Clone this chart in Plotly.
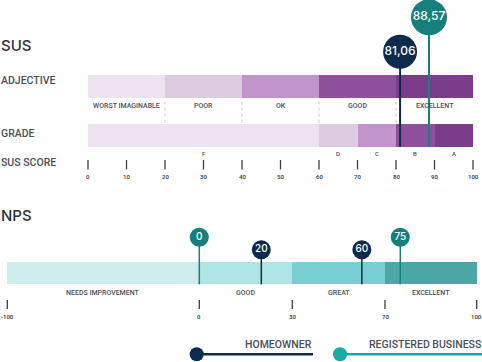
import numpy as np
import plotly.graph_objects as go

# ---------------- data ----------------
SUS_ADJ_LABELS = ["WORST IMAGINABLE", "POOR", "OK", "GOOD", "EXCELLENT"]
SUS_ADJ_BOUNDS = [0, 20, 40, 60, 80, 100]
SUS_GRADE_LABELS = ["F", "D", "C", "B", "A"]
SUS_GRADE_BOUNDS = [0, 60, 70, 80, 90, 100]
SUS_TICKS = [0, 10, 20, 30, 40, 50, 60, 70, 80, 90, 100]

NPS_LABELS = ["NEEDS IMPROVEMENT", "GOOD", "GREAT", "EXCELLENT"]
NPS_BOUNDS = [-100, 0, 30, 70, 100]
NPS_TICKS = [-100, 0, 30, 70, 100]

SERIES = ["HOMEOWNER", "REGISTERED BUSINESS"]
SUS_SCORES = [81.06, 88.57]
NPS_SCORES = [[20, 60], [0, 75]]

# ---------------- style ----------------
W, H = 482, 362
PURPLES = ["#EDE2EF", "#DDCCE1", "#C195CB", "#8F509B", "#7B3C89"]
TEALS = ["#CFECEE", "#B0E5E6", "#77CFD1", "#4BA6A6"]
MARK_COL = ["#0C2B4D", "#167F7B"]
LEG_COL = ["#0C2B4D", "#17A9A5"]
TXT = "#4A4F5A"
DARK = "#2B303A"
LBL_FONT = "Roboto"
NUM_FONT = "Inter"

# SUS horizontal scale: value -> pixel (0 at 88px, 3.85 px/unit)
SUS_X0, SUS_PX = 88.0, 3.85
sus_range = [-SUS_X0 / SUS_PX, (W - SUS_X0) / SUS_PX]

# NPS display scale (piecewise, equal-ish segment widths as in design)
NPS_SCALE_PIX = [7.3, 199.3, 292.3, 385.0, 476.7]


def nps_pos(v):
    return float(np.interp(v, NPS_BOUNDS, NPS_SCALE_PIX))


# vertical layout (pixels from top)
Y_ADJ, Y_GRADE, BAR_H = 86.5, 135.5, 22.4
Y_NPS, NPS_H = 273.3, 22.0

fig = go.Figure()

# ---- SUS adjective bar ----
fig.add_trace(go.Bar(
    y=[Y_ADJ] * len(SUS_ADJ_LABELS),
    base=SUS_ADJ_BOUNDS[:-1],
    x=np.diff(SUS_ADJ_BOUNDS),
    orientation="h", width=BAR_H,
    marker=dict(color=PURPLES, line_width=0),
    hoverinfo="skip", showlegend=False))

# ---- SUS grade bar ----
fig.add_trace(go.Bar(
    y=[Y_GRADE] * len(SUS_GRADE_LABELS),
    base=SUS_GRADE_BOUNDS[:-1],
    x=np.diff(SUS_GRADE_BOUNDS),
    orientation="h", width=BAR_H,
    marker=dict(color=PURPLES, line_width=0),
    hoverinfo="skip", showlegend=False))

# ---- NPS bar ----
nps_starts = [nps_pos(v) for v in NPS_BOUNDS[:-1]]
nps_ends = [nps_pos(v) for v in NPS_BOUNDS[1:]]
fig.add_trace(go.Bar(
    y=[Y_NPS] * len(NPS_LABELS),
    base=nps_starts,
    x=[e - s for s, e in zip(nps_starts, nps_ends)],
    orientation="h", width=NPS_H,
    marker=dict(color=TEALS, line_width=0),
    xaxis="x2", hoverinfo="skip", showlegend=False))

# dotted separators between adjective labels
sx, sy = [], []
for b in SUS_ADJ_BOUNDS[1:-1]:
    sx += [b, b, None]
    sy += [Y_ADJ + BAR_H / 2 + 4, Y_GRADE - BAR_H / 2 - 1, None]
fig.add_trace(go.Scatter(x=sx, y=sy, mode="lines",
                         line=dict(color="#C8C8CC", width=1, dash="dot"),
                         hoverinfo="skip", showlegend=False))

# SUS ticks
tx, ty = [], []
for t in SUS_TICKS:
    tx += [t, t, None]
    ty += [160, 169.5, None]
fig.add_trace(go.Scatter(x=tx, y=ty, mode="lines",
                         line=dict(color="#3A3F48", width=1.3),
                         hoverinfo="skip", showlegend=False))

# NPS ticks
tx, ty = [], []
for t in NPS_TICKS:
    p = nps_pos(t)
    tx += [p, p, None]
    ty += [300, 309, None]
fig.add_trace(go.Scatter(x=tx, y=ty, mode="lines", xaxis="x2",
                         line=dict(color="#3A3F48", width=1.3),
                         hoverinfo="skip", showlegend=False))

# ---- SUS markers ----
SUS_CY = [51.7, 17.3]
SUS_SIZE = [34, 36]
for i, v in enumerate(SUS_SCORES):
    fig.add_trace(go.Scatter(x=[v, v], y=[SUS_CY[i], Y_GRADE + BAR_H / 2],
                             mode="lines", line=dict(color=MARK_COL[i], width=2),
                             hoverinfo="skip", showlegend=False))
    fig.add_trace(go.Scatter(
        x=[v], y=[SUS_CY[i]], mode="markers+text",
        text=[f"{v:.2f}".replace(".", ",")], textposition="middle center",
        textfont=dict(family=NUM_FONT, size=12, color="white", weight=500),
        marker=dict(size=SUS_SIZE[i], color=MARK_COL[i], line_width=0),
        hoverinfo="skip", showlegend=False))

# ---- NPS markers ----
NPS_CY = [249.7, 237.3]
for i, vals in enumerate(NPS_SCORES):
    for v in vals:
        p = nps_pos(v)
        fig.add_trace(go.Scatter(x=[p, p], y=[NPS_CY[i], Y_NPS + NPS_H / 2],
                                 mode="lines", xaxis="x2",
                                 line=dict(color=MARK_COL[i], width=1.5),
                                 hoverinfo="skip", showlegend=False))
        fig.add_trace(go.Scatter(
            x=[p], y=[NPS_CY[i]], mode="markers+text", xaxis="x2",
            text=[str(v)], textposition="middle center",
            textfont=dict(family=NUM_FONT, size=10, color="white", weight=500),
            marker=dict(size=19, color=MARK_COL[i], line_width=0),
            hoverinfo="skip", showlegend=False))

# ---- legend (custom) ----
LEG_Y = 354.3
LEG_LINES = [(196.7, 313.0), (340.0, 482.0)]
for i, name in enumerate(SERIES):
    x0, x1 = LEG_LINES[i]
    fig.add_trace(go.Scatter(x=[x0, x1], y=[LEG_Y, LEG_Y], mode="lines", xaxis="x2",
                             line=dict(color=LEG_COL[i], width=2.5),
                             hoverinfo="skip", showlegend=False))
    fig.add_trace(go.Scatter(x=[x0], y=[LEG_Y], mode="markers", xaxis="x2",
                             marker=dict(size=14, color=LEG_COL[i], line_width=0),
                             hoverinfo="skip", showlegend=False))

ann = []


def add_text(x, y, text, size, color=TXT, xref="x", xanchor="center",
             family=LBL_FONT, weight=None):
    f = dict(family=family, size=size, color=color)
    if weight:
        f["weight"] = weight
    ann.append(dict(x=x, y=y, xref=xref, yref="y", text=text, showarrow=False,
                    xanchor=xanchor, yanchor="middle", font=f, borderpad=0))


# section titles / row labels
add_text(0, 45, "SUS", 15, DARK, xref="x2", xanchor="left", family=NUM_FONT, weight=500)
add_text(0, 215, "NPS", 15, DARK, xref="x2", xanchor="left", family=NUM_FONT, weight=500)
add_text(0, 80, "ADJECTIVE", 10.5, TXT, xref="x2", xanchor="left", weight=500)
add_text(0, 133, "GRADE", 10.5, TXT, xref="x2", xanchor="left", weight=500)
add_text(0, 162, "SUS SCORE", 10.5, TXT, xref="x2", xanchor="left", weight=500)

# adjective labels
for lab, a, b in zip(SUS_ADJ_LABELS, SUS_ADJ_BOUNDS[:-1], SUS_ADJ_BOUNDS[1:]):
    add_text((a + b) / 2, 106, lab, 7, TXT, weight=500)
# grade labels
for lab, a, b in zip(SUS_GRADE_LABELS, SUS_GRADE_BOUNDS[:-1], SUS_GRADE_BOUNDS[1:]):
    add_text((a + b) / 2, 153.3, lab, 6, TXT, weight=500)
# SUS tick labels
for t in SUS_TICKS:
    add_text(t, 176, str(t), 6, DARK, weight=500)

# NPS segment labels
for lab, a, b in zip(NPS_LABELS, NPS_BOUNDS[:-1], NPS_BOUNDS[1:]):
    add_text((nps_pos(a) + nps_pos(b)) / 2, 292.5, lab, 7, TXT, xref="x2", weight=500)
# NPS tick labels
for t in NPS_TICKS:
    add_text(nps_pos(t), 316, str(t), 6, DARK, xref="x2", weight=500)

# legend texts
for i, name in enumerate(SERIES):
    add_text(LEG_LINES[i][1], 344.3, name, 10.5, TXT, xref="x2", xanchor="right", weight=500)

fig.update_layout(
    width=W, height=H,
    margin=dict(l=0, r=0, t=0, b=0),
    paper_bgcolor="white", plot_bgcolor="white",
    barmode="overlay", bargap=0,
    showlegend=False,
    xaxis=dict(range=sus_range, visible=False, fixedrange=True),
    xaxis2=dict(range=[0, W], visible=False, overlaying="x", fixedrange=True),
    yaxis=dict(range=[H, 0], visible=False, fixedrange=True),
    annotations=ann,
)

fig.write_html("out.html", config={"displayModeBar": False},
               post_script="document.body.style.margin='0';")
